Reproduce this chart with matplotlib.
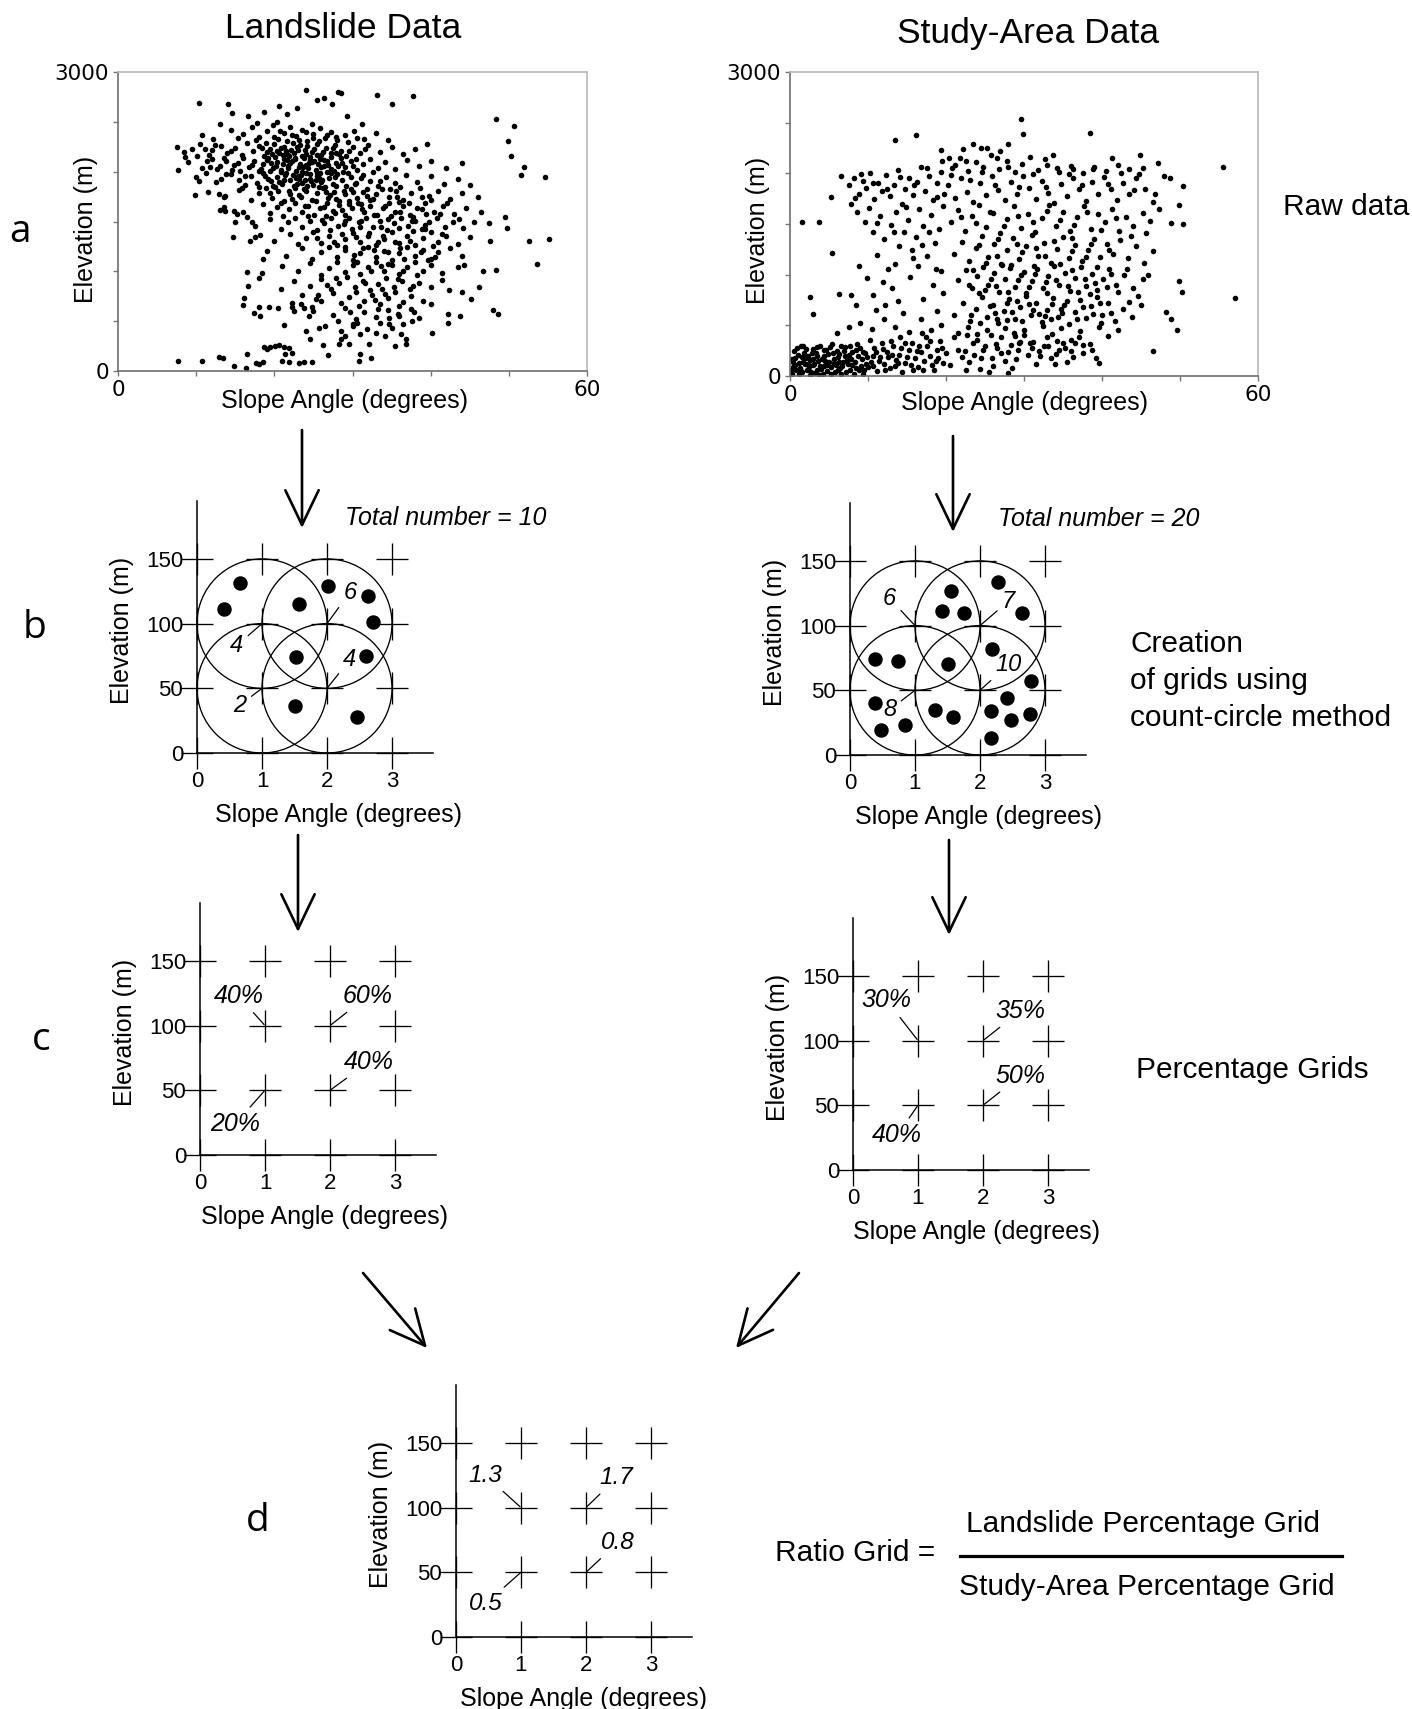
import matplotlib
matplotlib.use("Agg")
import matplotlib.pyplot as plt
from matplotlib.patches import Ellipse, FancyArrowPatch
from matplotlib.lines import Line2D

plt.rcParams['font.family'] = ['Liberation Sans', 'DejaVu Sans']

W, H = 1412, 1709

# --- a: raw data, (slope angle deg, elevation m)
landslide_pts = [
    # sparse top / right outliers
    (24.1, 2816), (28.1, 2799), (28.5, 2789), (33.1, 2772), (37.8, 2759), (10.3, 2688), (14.1, 2675),
    (35.1, 2675), (25.5, 2722), (26.4, 2739), (27.4, 2682), (48.3, 2524), (50.6, 2457), (49.9, 2306),
    (50.3, 2162), (51.9, 2045), (51.6, 1971), (54.6, 1951), (55.1, 1324), (52.6, 1300), (53.6, 1073),
    (49.5, 1542), (49.8, 1431), (47.4, 1482), (47.6, 1307), (48.4, 1016), (46.7, 1006), (48, 613),
    (48.6, 570), (42.2, 570), (42.2, 486), (43.7, 550), (40.2, 385), (40, 677), (45.1, 721), (46.2, 838),
    (44, 788), (44.3, 1066), (42.4, 811),
    # left tail and lower-left scatter
    (7.6, 2252), (7.7, 2021), (8.4, 2196), (8.6, 2145), (9.9, 1770), (10.4, 1911), (10.7, 2363),
    (11.1, 2229), (11.4, 2112), (11.8, 2045), (12.4, 2263), (12.9, 1777), (13.7, 1760), (13.1, 2480),
    (13, 1616), (13.7, 1602), (14.6, 2588), (14.7, 1341), (14.8, 1602), (15.2, 1575), (13.8, 1978),
    (14.4, 2212), (16.5, 1542), (16.9, 1307), (17.1, 1492), (18.2, 1364), (18.6, 1123), (16.5, 989),
    (18.4, 979), (18.1, 929), (16.6, 855), (16.1, 737), (16, 660), (17.4, 580), (18, 647), (18.2, 553),
    (19.3, 647), (20.9, 821), (20.5, 637), (21.2, 459), (22.2, 644), (22.3, 687), (22.5, 603),
    (23.4, 670), (23.8, 637), (24.8, 647), (24.4, 553), (25.3, 727),
    (9.5, 2230), (10.1, 2160), (11.6, 2170), (12.7, 2030), (13.5, 2140), (14.9, 2070), (15.6, 2010),
    (12.1, 2330), (15.4, 2340), (16.2, 1960), (11.3, 1990), (13.2, 1930), (15.9, 1840),
    # bottom
    (7.7, 100), (10.8, 100), (12.9, 141), (13.4, 127), (14.8, 50), (16.4, 34), (16.5, 174), (17.6, 84),
    (18, 74), (18.6, 90), (18.7, 241), (19.1, 224), (19.5, 241), (20.1, 251), (20.6, 261), (21.2, 241),
    (21.9, 235), (21, 100), (21.9, 87), (23.1, 80), (23.8, 94), (24.8, 94), (21.4, 174), (22.3, 184),
    (24, 402), (24.5, 318), (25.7, 436), (26.2, 261), (26.9, 161), (28.3, 268), (28.5, 318), (29.1, 352),
    (29.6, 268), (30.8, 100), (30.9, 168), (30, 452), (30.6, 486), (30.9, 369), (32.1, 268), (32.4, 134),
    (33, 385), (34.1, 352), (34.7, 469), (35.4, 251), (36.9, 275), (36.8, 318), (36.2, 369), (37.6, 503),
    (37.9, 587), (35.8, 570), (34.7, 536),
    # 2300-2700
    (14.5, 2420), (16, 2380), (17.2, 2450), (18, 2350), (19, 2410), (19.8, 2470), (20.5, 2330),
    (21.3, 2390), (22, 2450), (22.8, 2360), (23.5, 2420), (24.2, 2310), (25, 2380), (25.8, 2440),
    (26.5, 2340), (27.3, 2400), (28, 2320), (29, 2370), (30.2, 2410), (31.5, 2330), (33, 2390),
    (34.5, 2320), (17.8, 2490), (24.8, 2480), (20.3, 2500), (16.6, 2560), (18.7, 2600), (21.6, 2580),
    (22.9, 2640), (20.6, 2660), (29.3, 2560), (31.2, 2480),
    (17.6, 2322), (18.9, 2287), (19.9, 2345), (20.7, 2411), (21.6, 2303), (22.3, 2367), (23.2, 2318),
    (24.1, 2398), (24.9, 2342), (25.7, 2305), (26.8, 2371), (27.9, 2352), (29.4, 2298), (30.6, 2335),
    # 2150-2300
    (10.5, 2280), (12, 2220), (13.2, 2260), (14, 2190), (15, 2240), (15.8, 2170), (16.5, 2290),
    (17.3, 2210), (18, 2260), (18.7, 2160), (19.4, 2230), (20, 2280), (20.6, 2190), (21.2, 2250),
    (21.8, 2170), (22.4, 2290), (23, 2220), (23.6, 2160), (24.2, 2260), (24.8, 2200), (25.4, 2280),
    (26, 2170), (26.6, 2240), (27.2, 2190), (27.8, 2270), (28.5, 2210), (29.2, 2160), (30, 2250),
    (31, 2190), (32, 2270), (33.5, 2200), (35, 2250), (36.5, 2180), (38, 2230), (39.5, 2280),
    (19.7, 2180), (22.1, 2220), (25.1, 2230), (23.3, 2270), (21.5, 2210),
    (18.4, 2235), (19.1, 2118), (20.3, 2203), (21.1, 2172), (22.7, 2131), (23.9, 2213), (24.5, 2122),
    (25.5, 2167), (26.4, 2121), (27.5, 2238), (28.3, 2176), (29.6, 2205), (30.4, 2127), (31.6, 2228),
    # 2000-2150
    (9, 2100), (10.8, 2040), (12, 2130), (13, 2060), (13.8, 2110), (14.6, 2020), (15.3, 2090),
    (16, 2140), (16.7, 2050), (17.4, 2110), (18, 2010), (18.6, 2080), (19.2, 2140), (19.8, 2040),
    (20.3, 2100), (20.8, 2020), (21.3, 2130), (21.8, 2060), (22.3, 2110), (22.8, 2010), (23.3, 2080),
    (23.8, 2140), (24.3, 2040), (24.8, 2100), (25.3, 2020), (25.8, 2130), (26.3, 2060), (26.8, 2110),
    (27.3, 2030), (27.9, 2090), (28.5, 2140), (29.1, 2050), (29.8, 2110), (30.6, 2020), (31.4, 2080),
    (32.3, 2130), (33.2, 2040), (34.2, 2100), (35.5, 2030), (37, 2120), (38.5, 2060), (40, 2110),
    (42, 2040), (44, 2090), (21.1, 2075), (23.6, 2000), (25.6, 2075), (22.6, 2140), (24.6, 2150),
    (20.1, 2150),
    (17.1, 2065), (19.6, 2087), (21.6, 2118), (23.1, 2043), (24.4, 2083), (26.9, 2069), (28.6, 2083),
    (30.1, 2055),
    # 1850-2000
    (10, 1950), (12.5, 1900), (14.5, 1980), (15.5, 1920), (16.3, 1870), (17, 1960), (17.8, 1890),
    (18.5, 1990), (19.2, 1930), (19.8, 1860), (20.4, 1950), (21, 1880), (21.5, 1990), (22, 1920),
    (22.5, 1860), (23, 1960), (23.5, 1890), (24, 1990), (24.5, 1930), (25, 1870), (25.5, 1960),
    (26, 1900), (26.5, 1850), (27, 1940), (27.5, 1880), (28, 1980), (28.6, 1920), (29.2, 1860),
    (29.8, 1950), (30.5, 1890), (31.3, 1970), (32.2, 1910), (33.2, 1860), (34.3, 1950), (35.5, 1890),
    (36.8, 1970), (38.3, 1900), (40, 1960), (41.7, 1880), (43.5, 1930), (45, 1870), (22.8, 1935),
    (25.3, 1915), (27.3, 1990), (24.2, 1860),
    (18.8, 1952), (20.9, 1993), (22.4, 1968), (23.9, 1921), (25.4, 1983), (26.1, 1918), (27.6, 2002),
    (29.4, 1989), (31.1, 1936), (32.6, 1995),
    # 1700-1850
    (11.5, 1800), (13.5, 1750), (15.5, 1820), (17, 1720), (18, 1790), (18.9, 1840), (19.7, 1740),
    (20.5, 1810), (21.3, 1710), (22, 1780), (22.7, 1840), (23.4, 1750), (24.1, 1810), (24.8, 1720),
    (25.5, 1790), (26.2, 1840), (26.9, 1740), (27.6, 1800), (28.3, 1710), (29, 1780), (29.8, 1830),
    (30.6, 1740), (31.4, 1800), (32.2, 1720), (33, 1780), (33.8, 1830), (34.7, 1750), (35.6, 1810),
    (36.5, 1720), (37.5, 1790), (38.6, 1840), (39.8, 1760), (41, 1810), (42.5, 1730), (44, 1790),
    (46, 1750), (23.1, 1770), (27.1, 1770), (30.1, 1800),
    (18.1, 1848), (19.4, 1786), (20.1, 1843), (21.2, 1918), (21.9, 1803), (22.9, 1881), (23.8, 1827),
    (24.7, 1906), (25.7, 1848), (26.6, 1792), (27.9, 1858), (28.9, 1805), (30.3, 1878), (31.9, 1826),
    (33.5, 1903), (34.8, 1823), (36.1, 1851),
    # 1550-1700
    (13.5, 1650), (16, 1600), (18.5, 1680), (19.5, 1590), (20.3, 1650), (21.1, 1560), (21.9, 1630),
    (22.7, 1690), (23.5, 1600), (24.3, 1660), (25.1, 1570), (25.9, 1640), (26.7, 1690), (27.5, 1610),
    (28.3, 1670), (29.1, 1570), (29.9, 1640), (30.7, 1690), (31.5, 1600), (32.3, 1660), (33.1, 1570),
    (33.9, 1640), (34.7, 1690), (35.5, 1600), (36.4, 1660), (37.3, 1570), (38.3, 1640), (39.3, 1690),
    (40.4, 1600), (41.6, 1660), (43, 1580), (44.5, 1640), (46.5, 1600), (28.7, 1620),
    (20.8, 1690), (22.3, 1726), (23.9, 1655), (25.3, 1701), (26.4, 1648), (27.9, 1729), (29.5, 1702),
    (31.1, 1672), (32.6, 1729), (34.1, 1660), (35.7, 1746), (37.2, 1685), (38.9, 1621), (40.1, 1716),
    (42.1, 1689),
    # 1400-1550
    (15, 1500), (17.5, 1450), (19.5, 1530), (20.8, 1420), (21.8, 1490), (22.7, 1540), (23.6, 1440),
    (24.5, 1510), (25.4, 1410), (26.3, 1480), (27.2, 1540), (28.1, 1450), (29, 1510), (29.9, 1420),
    (30.8, 1490), (31.7, 1540), (32.6, 1440), (33.5, 1510), (34.4, 1410), (35.3, 1480), (36.2, 1540),
    (37.1, 1450), (38, 1510), (38.9, 1420), (39.8, 1490), (40.8, 1540), (41.8, 1440), (42.9, 1500),
    (44.2, 1430), (45.6, 1490),
    (24.3, 1555), (26.1, 1520), (27.8, 1590), (29.5, 1536), (31.1, 1505), (32.8, 1568), (34.5, 1523),
    (36.1, 1592), (37.8, 1549), (39.3, 1460), (41.2, 1577), (43.6, 1524),
    # 1250-1400
    (17.5, 1340), (20, 1300), (22, 1370), (23, 1270), (24, 1330), (25, 1390), (26, 1280), (27, 1350),
    (28, 1260), (29, 1320), (30, 1380), (31, 1290), (32, 1350), (33, 1260), (34, 1320), (35, 1390),
    (36, 1280), (37, 1350), (38, 1260), (39, 1330), (40, 1390), (41, 1290), (42, 1350), (43.5, 1270),
    (45, 1340), (25.5, 1335),
    (27.1, 1410), (28.7, 1372), (30.9, 1443), (32.1, 1389), (33.9, 1352), (35.9, 1432), (37.4, 1304),
    (39.3, 1428), (41.4, 1372),
    # 1100-1250
    (19, 1200), (21.5, 1150), (23.5, 1230), (24.8, 1120), (26, 1190), (27, 1240), (28, 1140),
    (29, 1210), (30, 1110), (31, 1180), (32, 1240), (33, 1140), (34, 1200), (35, 1110), (36, 1180),
    (37, 1240), (38, 1150), (39, 1210), (40, 1120), (41, 1190), (42.5, 1230), (44, 1150),
    (29.1, 1245), (31.4, 1230), (33.2, 1296), (34.6, 1192), (36.1, 1232), (38.7, 1195), (40.6, 1143),
    # 950-1100
    (21, 1050), (23, 1000), (24.5, 1080), (26, 960), (27, 1030), (28, 1090), (29, 990), (30, 1060),
    (31, 970), (32, 1040), (33, 1090), (34, 1000), (35, 1060), (36, 970), (37, 1040), (38, 1090),
    (39, 1000), (40, 1060), (41.5, 980), (43.5, 1040),
    (30.6, 1090), (32.4, 1005), (34.6, 1075), (36.4, 1008), (38.2, 965), (39.6, 1111),
    # 800-950
    (22.5, 900), (24.5, 850), (26, 920), (27.3, 820), (28.3, 880), (29.3, 940), (30.3, 840), (31.3, 900),
    (32.3, 810), (33.3, 870), (34.3, 930), (35.3, 840), (36.3, 900), (37.3, 820), (38.5, 880), (40, 840),
    (41.5, 910), (31.6, 880), (33.8, 820), (35.8, 925), (37.8, 855), (26.8, 860), (27.9, 935),
    # 650-800
    (23.5, 760), (26, 700), (27.5, 780), (28.5, 680), (29.5, 740), (30.5, 790), (31.5, 700), (32.5, 760),
    (33.5, 670), (34.5, 730), (35.5, 790), (36.5, 690), (37.5, 750), (39, 700), (34.1, 775), (32.9, 715),
    (25.6, 760),
    # 300-650
    (25, 600), (27.5, 560), (29, 630), (30.5, 520), (31.5, 590), (33, 540), (34.5, 610), (36, 550),
    (37.5, 620), (38.5, 530), (26.5, 450), (28.5, 400), (30, 470), (31.8, 420), (33.5, 480), (35, 430),
    (36.5, 470), (35.9, 650), (30.8, 650), (29.7, 590), (28.1, 500), (33.2, 620),
    # extra points in the dense core
    (18.3, 2030), (19, 2200), (19.6, 1910), (20.2, 2060), (20.9, 2240), (21.4, 1970), (22, 2090),
    (22.5, 2190), (23.1, 1930), (23.7, 2050), (24.1, 2180), (24.6, 1980), (25.1, 2110), (25.7, 1940),
    (26.2, 2200), (26.7, 2000), (27.2, 2150), (27.7, 1950), (28.2, 2060), (28.8, 2000), (20.6, 1900),
    (21.7, 2040), (22.9, 2250), (24, 2070), (26, 2050), (23.4, 1970), (25.9, 1990), (21.9, 2160),
    (19.4, 2010), (27.9, 2190), (26.6, 1560), (28.9, 1470), (31.2, 1630), (33.6, 1440), (35.9, 1700),
    (37.6, 1510), (30.4, 1340), (32.7, 1210), (35.4, 1290), (37.8, 1400), (39.4, 1580), (27.6, 1290),
    (30.2, 1160), (33.7, 1050), (36.6, 1120), (40.3, 1250), (34.9, 1560), (31.9, 1760), (38.9, 1750),
    (29.6, 1680),
]

study_pts = [
    # outliers
    (55.5, 2064), (57, 772), (29.6, 2537), (29.9, 2386), (38.4, 2399), (16.2, 2382), (13.4, 2327),
    (1.6, 1521), (3.7, 1521), (5.4, 1209), (2.5, 776), (3, 611), (6.3, 805), (7.8, 798), (5.2, 1768),
    (6.5, 1972), (46.5, 250), (39.6, 125), (49.6, 453), (49.9, 940), (50.3, 831), (49.9, 1686),
    (50.4, 1873), (50.4, 1498), (48.9, 1512), (47.2, 2106), (47.9, 1972), (48.7, 1958), (48.2, 634),
    (48.8, 559), (32.7, 2139), (36.3, 2041), (19.4, 2228), (20.4, 2156), (23.4, 2294), (24.5, 2254),
    (26.9, 2221), (27.9, 2294),
    # low dense band, slopes 0-20
    (0.3, 20), (0.8, 60), (1.2, 130), (1.6, 40), (2, 180), (2.4, 90), (2.8, 230), (3.2, 30), (3.6, 150),
    (4, 70), (4.4, 200), (4.8, 110), (5.2, 20), (5.6, 170), (6, 250), (6.4, 80), (6.8, 140), (7.2, 40),
    (7.6, 210), (8, 110), (8.4, 260), (8.8, 60), (9.2, 170), (9.6, 230), (10, 90), (10.4, 140),
    (10.8, 280), (11.2, 50), (11.6, 190), (12, 120), (12.4, 240), (12.8, 80), (13.2, 300), (13.6, 160),
    (14, 210), (14.4, 40), (14.8, 130), (15.2, 260), (15.6, 330), (16, 180), (16.4, 90), (16.8, 240),
    (17.2, 150), (17.6, 300), (18, 200), (18.4, 60), (18.8, 260), (19.2, 350), (19.6, 130), (20, 230),
    (0.5, 250), (1, 210), (1.4, 300), (1.9, 120), (2.5, 10), (3, 270), (3.4, 200), (3.9, 300),
    (4.6, 260), (5, 140), (5.4, 320), (6.2, 190), (7, 290), (7.8, 170), (8.6, 320), (9.4, 20),
    (10.2, 360), (11, 240), (11.8, 330), (12.6, 190), (13.4, 100), (14.2, 280), (15, 190), (15.8, 60),
    (16.6, 300), (17.4, 380), (18.2, 110), (19, 180), (0.2, 170), (0.6, 110), (1.8, 230), (2.2, 60),
    (2.6, 160), (3.8, 100), (4.2, 20), (5.8, 40), (6.6, 300), (7.4, 120), (8.2, 20), (9, 280),
    (9.8, 120), (10.6, 200), (0.4, 90), (1.1, 15), (1.5, 190), (2.1, 270), (2.9, 110), (3.5, 60),
    (4.5, 150), (5.5, 230), (6.5, 20), (7.1, 200), (6, 420), (7.5, 480), (9, 520), (10.5, 460),
    (12, 560), (13.5, 480), (14.5, 620), (11, 650), (8.5, 700),
    (0.1, 60), (0.7, 180), (1.3, 80), (1.7, 140), (2.3, 200), (2.7, 40), (3.1, 120), (3.3, 230),
    (3.7, 10), (4.1, 170), (4.3, 100), (4.7, 50), (4.9, 220), (5.3, 90), (5.7, 130), (6.1, 60),
    (6.3, 220), (6.7, 100), (6.9, 250), (7.3, 160), (7.7, 60), (7.9, 240), (8.3, 140), (8.7, 200),
    (9.1, 100), (9.5, 60), (9.9, 190), (0.9, 280), (1.7, 300), (2.3, 120), (3.5, 290), (4.3, 260),
    (5.1, 290), (6.3, 140), (7.7, 300), (8.5, 80), (9.3, 240), (0.4, 140), (1.4, 50), (2.9, 170),
    (5.9, 110), (10.7, 100), (11.4, 150), (12.2, 60), (13.1, 210), (13.9, 130), (14.7, 330),
    (15.5, 110), (16.3, 250), (17.1, 60), (17.9, 350), (18.7, 150), (19.5, 280), (11.9, 270),
    (12.9, 350), (14.1, 380), (16.9, 420), (18.1, 450), (19.3, 500), (15.3, 430),
    # low band, slopes 20-40
    (20.5, 110), (21.5, 260), (22.5, 60), (23.5, 330), (24.5, 180), (25.5, 40), (26.5, 280),
    (27.5, 150), (28.5, 80), (29.5, 340), (30.5, 210), (31.5, 120), (32.5, 300), (33.5, 180),
    (34.5, 260), (35.5, 140), (36.5, 330), (37.5, 230), (21, 380), (22, 190), (23, 140), (24, 410),
    (25, 300), (26, 100), (27, 380), (28, 240), (29, 170), (30, 400), (31, 280), (32, 200), (33, 380),
    (34, 120), (35, 330), (36, 250), (37, 380), (22.7, 400), (28.7, 420), (27.9, 30), (24.3, 70),
    (22.4, 250), (23.6, 210), (24.8, 260), (25.9, 180), (27.1, 230), (28.3, 310), (29.2, 260),
    (30.8, 330), (31.9, 250), (33.1, 300), (34.1, 220), (35.2, 280), (36.3, 190), (37.6, 310),
    (38.7, 260), (39.2, 180),
    # upper left section, slopes 7-20
    (7.5, 1880), (8.2, 1950), (8.8, 1800), (9.3, 1920), (9.8, 1860), (10.3, 2000), (10.8, 1750),
    (11.3, 1900), (11.8, 1830), (12.3, 1980), (12.8, 1780), (13.3, 1880), (13.8, 2030), (14.3, 1700),
    (14.8, 1850), (15.3, 1950), (15.8, 1790), (16.3, 1910), (16.8, 2060), (17.3, 1830), (17.8, 1970),
    (18.3, 1740), (18.8, 1900), (19.3, 2010), (19.8, 1800), (7.8, 1700), (8.6, 1620), (9.6, 1520),
    (10.1, 1660), (10.6, 1420), (11.5, 1580), (12.1, 1350), (12.9, 1490), (13.6, 1620), (14, 1280),
    (14.6, 1420), (15.1, 1540), (15.6, 1240), (16.1, 1370), (16.6, 1650), (17.1, 1480), (17.6, 1180),
    (18.1, 1590), (18.6, 1310), (19.1, 1450), (19.6, 1680), (8.8, 1090), (9.9, 970), (11.2, 1190),
    (12.6, 1060), (13.1, 870), (13.9, 740), (15.4, 980), (16.4, 1090), (17, 760), (18.3, 900),
    (19.4, 1040), (16.8, 560), (18.8, 640), (19.6, 820), (10.6, 800), (12.2, 700),
    (8.3, 1760), (9.1, 1990), (10.6, 1900), (12.4, 1850), (14.1, 1960), (15.9, 1880), (17.5, 2050),
    (18.9, 1770), (11.1, 1510), (13.3, 1420), (14.9, 1670), (16.9, 1290), (18.7, 1060), (17.8, 1420),
    (15.8, 1160), (13.5, 1110), (11.9, 930),
    # main body 2000-2300
    (20.8, 2050), (21.8, 2150), (22.8, 2020), (23.8, 2110), (24.8, 2060), (25.8, 2180), (26.8, 2040),
    (27.8, 2120), (28.8, 2010), (29.8, 2090), (30.8, 2160), (31.8, 2030), (33, 2080), (34.5, 2010),
    (36, 2070), (37.5, 2000), (39, 2060), (40.5, 2020), (42, 2080), (43.5, 2040), (45.3, 2050),
    (44.8, 1990), (22.2, 2240), (25.2, 2250), (19.5, 2120), (21.2, 2080), (20.6, 1980), (22.5, 2120),
    (26.5, 2150), (33.7, 2180), (41.3, 2150), (44.9, 2180),
    # 1700-2000
    (20.3, 1880), (21.1, 1760), (21.9, 1950), (22.7, 1820), (23.5, 1720), (24.3, 1900), (25.1, 1790),
    (25.9, 1970), (26.7, 1840), (27.5, 1740), (28.3, 1910), (29.1, 1800), (29.9, 1970), (30.7, 1860),
    (31.5, 1750), (32.3, 1920), (33.1, 1810), (33.9, 1710), (34.7, 1890), (35.5, 1780), (36.3, 1950),
    (37.1, 1850), (37.9, 1730), (38.7, 1910), (39.5, 1800), (40.3, 1960), (41.1, 1850), (41.9, 1740),
    (42.7, 1900), (43.5, 1800), (44.3, 1950), (45.5, 1850), (46.5, 1720),
    (23.1, 1930), (24.6, 2010), (26.3, 1880), (27.9, 2060), (29.4, 1870), (31.2, 1990), (32.8, 1870),
    (34.2, 2050), (35.8, 1990), (37.4, 1880), (38.9, 2040), (40.8, 1890), (42.4, 2000), (44.1, 1840),
    (46.8, 1800),
    # 1400-1700
    (20.6, 1520), (21.5, 1640), (22.4, 1430), (23.3, 1580), (24.2, 1690), (25.1, 1470), (26, 1610),
    (26.9, 1410), (27.8, 1550), (28.7, 1680), (29.6, 1460), (30.5, 1600), (31.4, 1420), (32.3, 1560),
    (33.2, 1690), (34.1, 1480), (35, 1620), (35.9, 1430), (36.8, 1570), (37.7, 1680), (38.6, 1450),
    (39.5, 1600), (40.4, 1520), (41.3, 1650), (42.2, 1430), (43.1, 1570), (44, 1480), (45.2, 1610),
    (46.2, 1530),
    (21.9, 1570), (23.9, 1510), (25.6, 1620), (27.4, 1480), (29.2, 1580), (31.1, 1520), (32.9, 1630),
    (34.6, 1540), (36.4, 1490), (38.1, 1620), (39.9, 1440), (41.8, 1560), (43.7, 1380), (45.6, 1410),
    (47.3, 1650),
    # 1100-1400
    (21, 1200), (22, 1320), (23, 1130), (23.8, 1260), (24.6, 1380), (25.4, 1170), (26.2, 1300),
    (27, 1110), (27.8, 1240), (28.6, 1360), (29.4, 1150), (30.2, 1280), (31, 1390), (31.8, 1180),
    (32.6, 1310), (33.4, 1120), (34.2, 1250), (35, 1370), (35.8, 1160), (36.6, 1290), (37.4, 1130),
    (38.2, 1240), (39, 1350), (39.8, 1170), (40.6, 1300), (41.4, 1200), (42.3, 1340), (43.3, 1160),
    (44.3, 1280), (45.4, 1120), (46.5, 1230),
    (24.2, 1290), (26.7, 1350), (29.1, 1300), (31.6, 1260), (33.9, 1330), (36.2, 1360), (38.6, 1300),
    (40.9, 1240), (25.1, 1120), (26.6, 1180), (28.3, 1100), (29.7, 1220), (31.3, 1090), (32.7, 1180),
    (34.6, 1110), (36.1, 1230), (37.9, 1170), (39.4, 1080),
    # 800-1100
    (21.5, 950), (22.5, 1050), (23.3, 870), (24, 990), (24.7, 1080), (25.4, 900), (26.1, 1020),
    (26.8, 830), (27.5, 960), (28.2, 1070), (28.9, 880), (29.6, 1000), (30.3, 820), (31, 940),
    (31.7, 1060), (32.4, 870), (33.1, 990), (33.8, 1090), (34.5, 900), (35.2, 1020), (35.9, 840),
    (36.6, 970), (37.3, 1080), (38, 890), (38.7, 1010), (39.4, 850), (40.1, 960), (40.9, 1060),
    (41.8, 900), (42.8, 1000), (44, 870), (45.2, 960), (25, 850), (27.2, 1095), (30, 1030),
    (32.8, 930), (36.2, 1050), (38.4, 810),
    (22.9, 900), (24.2, 820), (25.8, 960), (26.4, 890), (27.9, 830), (29.2, 950), (30.6, 880),
    (31.4, 1010), (32.9, 820), (34.1, 950), (35.7, 890), (36.9, 830), (37.8, 960), (39.1, 920),
    (40.6, 880), (23.5, 1050), (41.1, 1010), (43.2, 1060), (42.1, 830), (44.6, 790), (45.9, 1000),
    # 500-800
    (21, 600), (22.2, 720), (23.1, 540), (23.9, 660), (24.6, 780), (25.3, 580), (26, 700), (26.7, 520),
    (27.4, 640), (28.1, 760), (28.8, 560), (29.5, 680), (30.2, 790), (30.9, 600), (31.6, 720),
    (32.3, 530), (33, 650), (33.7, 770), (34.4, 580), (35.1, 700), (35.8, 510), (36.5, 630),
    (37.2, 750), (37.9, 570), (38.6, 690), (39.3, 780), (40, 600), (40.8, 720), (41.7, 540),
    (42.7, 660), (43.8, 580), (45, 700), (26.3, 620), (29.1, 740), (31.9, 610), (34.7, 660),
    (27.8, 550), (33.4, 560),
    (23.2, 600), (24.3, 520), (25.7, 690), (26.6, 560), (27.8, 720), (28.4, 630), (29.8, 540),
    (30.6, 710), (31.2, 650), (32.7, 590), (33.6, 710), (34.9, 620), (35.5, 740), (36.8, 560),
    (37.6, 680), (38.9, 610), (39.8, 720), (43.4, 730), (41.2, 620), (39.9, 520),
    # 300-500
    (21.5, 420), (22.8, 480), (24, 360), (25.2, 450), (26.4, 320), (27.6, 470), (28.8, 390), (30, 450),
    (31.2, 340), (32.4, 490), (33.6, 410), (34.8, 470), (36, 360), (37.2, 440), (38.4, 320), (39.6, 480),
    (40.8, 390), (42, 450), (25.8, 400), (29.4, 330), (34.2, 350),
]

# --- b-d: count-circle grid
grid_x = [0, 1, 2, 3]
grid_y = [0, 50, 100, 150]
circle_centres = [(1, 100), (2, 100), (1, 50), (2, 50)]
circle_w, circle_h = 2, 100

landslide_dots = [(0.66, 131), (0.41, 111), (1.57, 115), (2.01, 129), (2.63, 121),
                  (2.71, 101), (1.53, 74), (2.6, 75), (1.5, 36), (2.46, 28)]
study_dots = [(1.56, 127), (1.41, 111), (1.75, 110), (2.27, 134), (2.65, 110),
              (2.18, 82), (0.39, 74), (0.74, 73), (1.51, 70), (2.79, 57),
              (0.39, 40), (0.48, 19), (0.84, 23), (1.31, 35), (1.58, 29),
              (2.17, 34), (2.42, 44), (2.47, 27), (2.77, 32), (2.17, 13)]

# values at the circle centres, same order as circle_centres
landslide_counts = ["4", "6", "2", "4"]
study_counts = ["6", "7", "8", "10"]
landslide_pct = ["40%", "60%", "20%", "40%"]
study_pct = ["30%", "35%", "40%", "50%"]
ratio_vals = ["1.3", "1.7", "0.5", "0.8"]

fig = plt.figure(figsize=(W / 100, H / 100), dpi=100)


def fx(x):
    return x / W


def fy(y):
    return 1 - y / H


def add_box(x0, y0, x1, y1):
    return fig.add_axes([fx(x0), fy(y1), (x1 - x0) / W, (y1 - y0) / H])


def ftext(x, y, s, **kw):
    kw.setdefault('fontsize', 21.5)
    kw.setdefault('va', 'center')
    fig.text(fx(x), fy(y), s, **kw)


def arrow(p0, p1):
    a = FancyArrowPatch((fx(p0[0]), fy(p0[1])), (fx(p1[0]), fy(p1[1])),
                        transform=fig.transFigure, arrowstyle='->,head_length=25,head_width=12',
                        mutation_scale=1, lw=1.9, color='black', shrinkA=0, shrinkB=0)
    fig.add_artist(a)


def scatter_panel(box, pts, xlab, ylab):
    ax = add_box(*box)
    ax.scatter([p[0] for p in pts], [p[1] for p in pts], s=16, c='black', linewidths=0)
    ax.set_xlim(0, 60)
    ax.set_ylim(0, 3000)
    ax.set_xticks([0, 60])
    ax.set_xticks(range(10, 60, 10), minor=True)
    ax.set_yticks([0, 3000])
    ax.set_yticks(range(500, 3000, 500), minor=True)
    ax.tick_params(which='both', direction='out', length=3.5, width=1, color='#777777',
                   labelsize=15.5, labelfontfamily='DejaVu Sans', pad=3)
    for s in ('left', 'bottom'):
        ax.spines[s].set_color('#6e6e6e')
        ax.spines[s].set_linewidth(1.2)
    for s in ('top', 'right'):
        ax.spines[s].set_color('#b8b8b8')
        ax.spines[s].set_linewidth(1.2)
    ax.set_xlabel('Slope Angle (degrees)', fontsize=18)
    ax.set_ylabel('Elevation (m)', fontsize=18)
    ax.xaxis.set_label_coords(*xlab)
    ax.yaxis.set_label_coords(*ylab)
    ax.xaxis.label.set_va('center')
    ax.yaxis.label.set_va('center')
    return ax


UX, UY = 65.0, 64.7 / 50


def grid_panel(ox, oy, xlab_x):
    x0, x1, y0, y1 = -1.6, 3.9, -60, 205
    ax = add_box(ox + x0 * UX, oy - y1 * UY, ox + x1 * UX, oy - y0 * UY)
    ax.set_xlim(x0, x1)
    ax.set_ylim(y0, y1)
    ax.set_facecolor('none')
    ax.spines['top'].set_visible(False)
    ax.spines['right'].set_visible(False)
    ax.spines['left'].set_position(('data', 0))
    ax.spines['bottom'].set_position(('data', 0))
    ax.spines['left'].set_bounds(0, 195)
    ax.spines['bottom'].set_bounds(0, 3.63)
    for s in ('left', 'bottom'):
        ax.spines[s].set_linewidth(1.1)
    ax.set_xticks(grid_x)
    ax.set_yticks(grid_y)
    ax.tick_params(length=0, labelsize=16)
    ax.tick_params(axis='x', pad=13)
    ax.tick_params(axis='y', pad=10)
    gx = [x for x in grid_x for y in grid_y]
    gy = [y for x in grid_x for y in grid_y]
    ax.scatter(gx, gy, marker='+', s=23 ** 2, linewidths=0.95, c='black', zorder=3)
    ax.set_xlabel('Slope Angle (degrees)', fontsize=18)
    ax.set_ylabel('Elevation (m)', fontsize=18)
    ax.xaxis.set_label_coords(xlab_x, -48, transform=ax.transData)
    ax.yaxis.set_label_coords(-1.15, 95, transform=ax.transData)
    ax.xaxis.label.set_va('center')
    ax.yaxis.label.set_va('center')
    return ax


def circles(ax, dots):
    for c in circle_centres:
        ax.add_patch(Ellipse(c, circle_w, circle_h, fill=False, lw=0.95, ec='black'))
    ax.plot([d[0] for d in dots], [d[1] for d in dots], 'o', color='black', ms=9.4)


def label_points(ax, texts, offsets, fs):
    for (gx, gy), t, (dx, dy) in zip(circle_centres, texts, offsets):
        ax.annotate(t, xy=(gx, gy), xytext=(gx + dx, gy + dy), ha='center', va='center',
                    fontsize=fs, style='italic',
                    arrowprops=dict(arrowstyle='-', lw=0.9, color='black', shrinkA=2, shrinkB=1))


# titles and row labels
ftext(343, 28, 'Landslide Data', fontsize=25.5, ha='center')
ftext(1028, 33, 'Study-Area Data', fontsize=25.5, ha='center')
for lab, x, y in [('a', 20, 232), ('b', 34, 628), ('c', 41, 1040), ('d', 258, 1521)]:
    ftext(x, y, lab, fontsize=28, ha='center', family=['Open Sans', 'DejaVu Sans'])

# a
scatter_panel((118, 72, 587, 371), landslide_pts, (0.482, -0.10), (-0.068, 0.472))
scatter_panel((790, 72, 1258, 376), study_pts, (0.502, -0.089), (-0.068, 0.48))
ftext(1283, 207, 'Raw data')

# b
axb1 = grid_panel(197, 753, 2.18)
circles(axb1, landslide_dots)
label_points(axb1, landslide_counts, [(-0.39, -17), (0.35, 24), (-0.34, -13), (0.35, 22)], 17)
axb2 = grid_panel(850, 755, 1.98)
circles(axb2, study_dots)
label_points(axb2, study_counts, [(-0.39, 21), (0.44, 19), (-0.39, -15), (0.44, 20)], 17)
ftext(446, 518, 'Total number = 10', fontsize=18, style='italic', ha='center')
ftext(1099, 519, 'Total number = 20', fontsize=18, style='italic', ha='center')
ftext(1130, 681, 'Creation\nof grids using\ncount-circle method', linespacing=1.4)

# c
axc1 = grid_panel(200, 1155, 1.92)
label_points(axc1, landslide_pct, [(-0.41, 23), (0.58, 23), (-0.46, -26), (0.6, 22)], 18)
axc2 = grid_panel(853, 1170, 1.9)
label_points(axc2, study_pct, [(-0.48, 31), (0.58, 23), (-0.32, -23), (0.58, 23)], 18)
ftext(1136, 1070, 'Percentage Grids')

# d
axd = grid_panel(456, 1637, 1.96)
label_points(axd, ratio_vals, [(-0.55, 25), (0.47, 23), (-0.54, -24), (0.49, 23)], 17.5)
ftext(775, 1553, 'Ratio Grid =')
ftext(1143, 1524, 'Landslide Percentage Grid', ha='center')
ftext(1147, 1587, 'Study-Area Percentage Grid', ha='center')
fig.add_artist(Line2D([fx(960), fx(1342)], [fy(1556), fy(1556)], lw=2.3, color='black',
                      transform=fig.transFigure))

# flow arrows
arrow((302, 430), (302, 528))
arrow((953, 436), (953, 532))
arrow((298, 835), (298, 932))
arrow((949, 840), (949, 935))
arrow((363, 1273), (427, 1348))
arrow((799, 1273), (736, 1348))

fig.savefig('out.png', dpi=100, facecolor='white')
